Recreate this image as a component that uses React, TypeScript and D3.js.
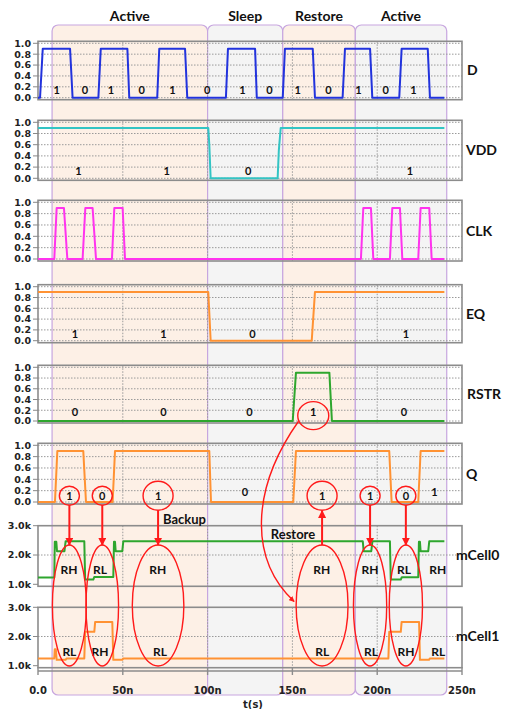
import React from 'react'
import * as d3 from 'd3'

const W = 508
const H = 709

// time axis in ns
const T_TICKS = [0, 50, 100, 150, 200, 250]
const T_LABELS = ['0.0', '50n', '100n', '150n', '200n', '250n']
const LOGIC_TICKS = [0, 0.2, 0.4, 0.6, 0.8, 1.0]
const CELL_TICKS = [1, 2, 3]

const PHASE_NAMES = ['Active', 'Sleep', 'Restore', 'Active']
const PHASE_EDGES = [8.3, 100, 144.3, 187.1, 241]

// waveforms, [t (ns), value]
const D_WAVE = [[0,0],[1.2,0],[2.8,0.9],[18.9,0.9],[20.4,0],[35.6,0],[37,0.9],[52.7,0.9],[53.8,0],[70.3,0],[71.5,0.9],[86.7,0.9],[88,0],[110.8,0],[112,0.9],[128,0.9],[129,0],[144.3,0],[145.6,0.9],[162,0.9],[163.3,0],[179.6,0],[181,0.9],[195.8,0.9],[197.1,0],[213,0],[214.4,0.9],[229.8,0.9],[231.1,0],[239.6,0]]
const VDD_WAVE = [[0,0.9],[100.4,0.9],[101,0.6],[101.8,0],[141.3,0],[142,0.5],[143.1,0.9],[239.6,0.9]]
const CLK_WAVE = [[0,0],[9.6,0],[11,0.9],[15.3,0.9],[17.3,0],[26.3,0],[27.9,0.9],[32.2,0.9],[34.2,0],[43.6,0],[45,0.9],[49.9,0.9],[51.3,0],[190.4,0],[191.8,0.9],[196.3,0.9],[197.7,0],[207.5,0],[208.9,0.9],[213.4,0.9],[214.8,0],[224.2,0],[225.6,0.9],[230.7,0.9],[232.1,0],[239.6,0]]
const EQ_WAVE = [[0,0.9],[100.4,0.9],[101.8,0],[161.4,0],[163.3,0.9],[239.6,0.9]]
const RSTR_WAVE = [[0,0],[150.2,0],[152.1,0.9],[171.8,0.9],[173.3,0],[239.6,0]]
const Q_WAVE = [[0,0],[10,0],[11.4,0.9],[26.7,0.9],[28.3,0],[44,0],[45.4,0.9],[101,0.9],[102,0],[150.5,0],[152.1,0.9],[207.1,0.9],[208.5,0],[224.2,0],[225.6,0.9],[239.6,0.9]]
// cell resistance, kOhm
const MCELL0_WAVE = [[0,1.23],[9.6,1.23],[9.9,2.45],[10.8,2.45],[11.2,2.13],[15.6,2.13],[16.3,2.47],[27.3,2.47],[27.8,1.16],[32.6,1.16],[33.2,1.25],[44.4,1.25],[44.8,2.45],[45.4,2.45],[45.8,2.13],[49.7,2.13],[50.3,2.47],[191.5,2.47],[192,2.13],[196.5,2.13],[197.2,2.47],[207.5,2.47],[208,1.16],[213.9,1.16],[214.5,1.24],[224.2,1.24],[224.6,2.45],[225.2,2.45],[225.6,2.13],[230.1,2.13],[230.7,2.47],[239.6,2.47]]
const MCELL1_WAVE = [[0,1.25],[9.6,1.25],[9.9,1.56],[10.5,1.56],[11,1.2],[16.3,1.2],[16.8,1.25],[27.3,1.25],[27.8,2.16],[33.2,2.16],[33.7,2.5],[43.8,2.5],[44.4,1.2],[49.7,1.2],[50.3,1.25],[206.6,1.25],[207.1,2.16],[213.9,2.16],[214.4,2.5],[224.7,2.5],[225.2,1.2],[230.5,1.2],[231.1,1.25],[239.6,1.25]]

// bit annotations, [t (ns), text]
const D_BITS = [[11,'1'],[27.7,'0'],[43,'1'],[61.1,'0'],[79.2,'1'],[99.8,'0'],[120.5,'1'],[136.4,'0'],[153.1,'1'],[171.2,'0'],[188.9,'1'],[205,'0'],[221.3,'1']]
const VDD_BITS = [[23.8,'1'],[75.9,'1'],[124,'0'],[219.3,'1']]
const EQ_BITS = [[21.8,'1'],[73.9,'1'],[126.4,'0'],[217,'1']]
const RSTR_BITS = [[21.8,'0'],[73.9,'0'],[124.6,'0'],[162.3,'1'],[215.8,'0']]
const Q_BITS = [[122,'0'],[233.7,'1']]
const MCELL0_STATES = [[18.3,'RH'],[36.6,'RL'],[70.6,'RH'],[167.3,'RH'],[195.8,'RH'],[215.8,'RL'],[235.7,'RH']]
const MCELL1_STATES = [[18.5,'RL'],[36.6,'RH'],[71.9,'RL'],[167.6,'RL'],[196.3,'RL'],[217,'RH'],[236,'RL']]

// circled Q bits and the cell ellipses below them: t, text, half width (ns)
const Q_CIRCLED = [[18.5,'1',10],[37.9,'0',9.6],[70.8,'1',15.2],[167.5,'1',15.3],[195.8,'1',9.8],[216.9,'0',9.8]]

const x = d3.scaleLinear().domain([0, 250]).range([38, 462])

const PANELS = [
  { name: 'D', wave: D_WAVE, bits: D_BITS, bitAt: 0.14, color: '#2233dd', lo: 97.7, hi: 43.3, lx: 467 },
  { name: 'VDD', wave: VDD_WAVE, bits: VDD_BITS, bitAt: 0.12, color: '#33c4c4', lo: 178.3, hi: 122.3, lx: 466 },
  { name: 'CLK', wave: CLK_WAVE, bits: [], bitAt: 0.12, color: '#ff33ee', lo: 259, hi: 202.3, lx: 466 },
  { name: 'EQ', wave: EQ_WAVE, bits: EQ_BITS, bitAt: 0.12, color: '#ff9233', lo: 340.7, hi: 286.7, lx: 466 },
  { name: 'RSTR', wave: RSTR_WAVE, bits: RSTR_BITS, bitAt: 0.16, color: '#2ea62e', lo: 421, hi: 367.3, lx: 467 },
  { name: 'Q', wave: Q_WAVE, bits: Q_BITS, bitAt: 0.17, color: '#ff9233', lo: 502, hi: 445.3, lx: 466 },
  { name: 'mCell0', wave: MCELL0_WAVE, bits: MCELL0_STATES, bitAt: 1.5, color: '#2ea62e', lo: 584.3, hi: 525.7, lx: 456, cell: true },
  { name: 'mCell1', wave: MCELL1_WAVE, bits: MCELL1_STATES, bitAt: 1.47, color: '#ff9233', lo: 665.7, hi: 607.3, lx: 456, cell: true },
]

const yOf = (p: any) => d3.scaleLinear().domain(p.cell ? [1, 3] : [0, 1]).range([p.lo, p.hi])

const TICK_FONT = '"DejaVu Sans", Verdana, sans-serif'
const LABEL_FONT = 'Lato, "Open Sans", sans-serif'
const RED = '#ff1a1a'

function Panel({ p }: { p: any }) {
  const y = yOf(p)
  const ticks = p.cell ? CELL_TICKS : LOGIC_TICKS
  const fmt = p.cell ? (v: number) => v.toFixed(1) + 'k' : d3.format('.1f')
  const line = d3.line<number[]>().x(d => x(d[0])).y(d => y(d[1]))
  const top = y(ticks[ticks.length - 1]) - (p.cell ? 0 : 2)
  const bot = y(ticks[0]) + 2
  const gridY = p.cell ? [2] : ticks
  return (
    <g>
      {gridY.map(v => (
        <line key={'h' + v} x1={x(0)} x2={x(250)} y1={y(v)} y2={y(v)} stroke="#9a9a9a" strokeDasharray="1.5,1.5" />
      ))}
      {T_TICKS.slice(1, -1).map(t => (
        <line key={'v' + t} x1={x(t)} x2={x(t)} y1={top} y2={bot} stroke="#9a9a9a" strokeDasharray="1.5,1.5" />
      ))}
      <rect x={x(0)} y={top} width={x(250) - x(0)} height={bot - top} fill="none" stroke="#8c8c8c" strokeWidth={1.6} />
      {ticks.map(v => (
        <g key={'t' + v}>
          <line x1={33} x2={38} y1={y(v)} y2={y(v)} stroke="#888" />
          <text x={31} y={y(v)} dy="0.35em" textAnchor="end" fontFamily={TICK_FONT} fontWeight="bold" fontSize={9.5} fill="#222">{fmt(v)}</text>
        </g>
      ))}
      <path d={line(p.wave) || ''} fill="none" stroke={p.color} strokeWidth={2} strokeLinejoin="round" />
      {p.bits.map((b: any, i: number) => (
        <text key={'b' + i} x={x(b[0])} y={y(p.bitAt)} dy="0.35em" textAnchor="middle" fontFamily={LABEL_FONT} fontWeight="bold" fontSize={p.cell ? 12 : 11} fill="#111">{b[1]}</text>
      ))}
      <text x={p.lx} y={(p.lo + p.hi) / 2} dy="0.35em" fontFamily={LABEL_FONT} fontWeight="bold" fontSize={14} fill="#111">{p.name}</text>
    </g>
  )
}

export default function App() {
  const yQ = yOf(PANELS[5])
  const yC0 = yOf(PANELS[6])
  const yC1 = yOf(PANELS[7])
  const yR = yOf(PANELS[4])
  const eTop = yC0(2.34)
  const eBot = yC1(0.99)
  const eCy = (eTop + eBot) / 2
  const eRy = (eBot - eTop) / 2
  const qCy = yQ(0.11)
  // RSTR circle and curve to the restored cell
  const rc = { x: x(RSTR_BITS[3][0] as number), y: yR(0.1), rx: 15.5, ry: 14 }
  const tgt = Q_CIRCLED[3]
  const tgtRx = x((tgt[0] as number) + (tgt[2] as number)) - x(tgt[0] as number)
  const sx = rc.x - rc.rx * 0.95, sy = rc.y + rc.ry * 0.4
  const ex = x(tgt[0] as number) - tgtRx - 2, ey = eCy - 4
  const curve = `M${sx},${sy} C${sx - 48},${sy + 68} ${ex - 45},${ey - 42} ${ex},${ey}`

  return (
    <div style={{ position: 'absolute', left: 0, top: 0 }}>
      <svg width={W} height={H} style={{ display: 'block' }}>
        <defs>
          <marker id="ah" viewBox="0 0 10 10" refX="9" refY="5" markerWidth="4" markerHeight="4" orient="auto">
            <path d="M0,0 L10,5 L0,10 z" fill={RED} />
          </marker>
        </defs>
        {PHASE_NAMES.map((n, i) => {
          const x0 = x(PHASE_EDGES[i]), x1 = x(PHASE_EDGES[i + 1])
          return (
            <g key={'ph' + i}>
              <rect x={x0} y={25} width={x1 - x0} height={670} rx={6} fill={i % 2 === 0 ? '#fdf0e6' : '#f4f4f4'} stroke="#c7a6df" strokeWidth={1.2} />
              <text x={(x0 + x1) / 2} y={16} dy="0.35em" textAnchor="middle" fontFamily={LABEL_FONT} fontWeight="bold" fontSize={14} fill="#111">{n}</text>
            </g>
          )
        })}
        {PANELS.map(p => <Panel key={p.name} p={p} />)}
        <line x1={x(0)} x2={x(250)} y1={671} y2={671} stroke="#8c8c8c" strokeWidth={1.6} />
        {T_TICKS.map((t, i) => (
          <g key={'xt' + t}>
            <line x1={x(t)} x2={x(t)} y1={667} y2={675} stroke="#8c8c8c" strokeWidth={1.4} />
            <text x={x(t)} y={690} dy="0.35em" textAnchor="middle" fontFamily={TICK_FONT} fontWeight="bold" fontSize={10} fill="#222">{T_LABELS[i]}</text>
          </g>
        ))}
        <text x={253} y={704} dy="0.35em" textAnchor="middle" fontFamily={TICK_FONT} fontWeight="bold" fontSize={10} fill="#222">t(s)</text>

        {/* annotations */}
        {Q_CIRCLED.map((c, i) => {
          const cx = x(c[0] as number)
          const big = (c[2] as number) > 12
          const r = big ? 15 : 10
          const ex2 = x((c[0] as number) + (c[2] as number)) - cx
          const restore = i === 3
          return (
            <g key={'qc' + i}>
              <ellipse cx={cx} cy={qCy} rx={r} ry={big ? 14.5 : 9.5} fill="none" stroke={RED} strokeWidth={1.4} />
              <text x={cx} y={qCy} dy="0.35em" textAnchor="middle" fontFamily={LABEL_FONT} fontWeight="bold" fontSize={11} fill="#111">{c[1]}</text>
              <ellipse cx={cx} cy={eCy} rx={ex2} ry={eRy} fill="none" stroke={RED} strokeWidth={1.4} />
              {restore
                ? <line x1={cx} x2={cx} y1={eTop} y2={qCy + 15} stroke={RED} strokeWidth={2} markerEnd="url(#ah)" />
                : <line x1={cx} x2={cx} y1={qCy + (big ? 14.5 : 9.5)} y2={eTop} stroke={RED} strokeWidth={2} markerEnd="url(#ah)" />}
            </g>
          )
        })}
        <ellipse cx={rc.x} cy={rc.y} rx={rc.rx} ry={rc.ry} fill="none" stroke={RED} strokeWidth={1.4} />
        <path d={curve} fill="none" stroke={RED} strokeWidth={1.4} markerEnd="url(#ah)" />
        <text x={184.5} y={519} dy="0.35em" textAnchor="middle" fontFamily={LABEL_FONT} fontWeight="bold" fontSize={13} fill="#111">Backup</text>
        <text x={293} y={534} dy="0.35em" textAnchor="middle" fontFamily={LABEL_FONT} fontWeight="bold" fontSize={13} fill="#111">Restore</text>
      </svg>
    </div>
  )
}
